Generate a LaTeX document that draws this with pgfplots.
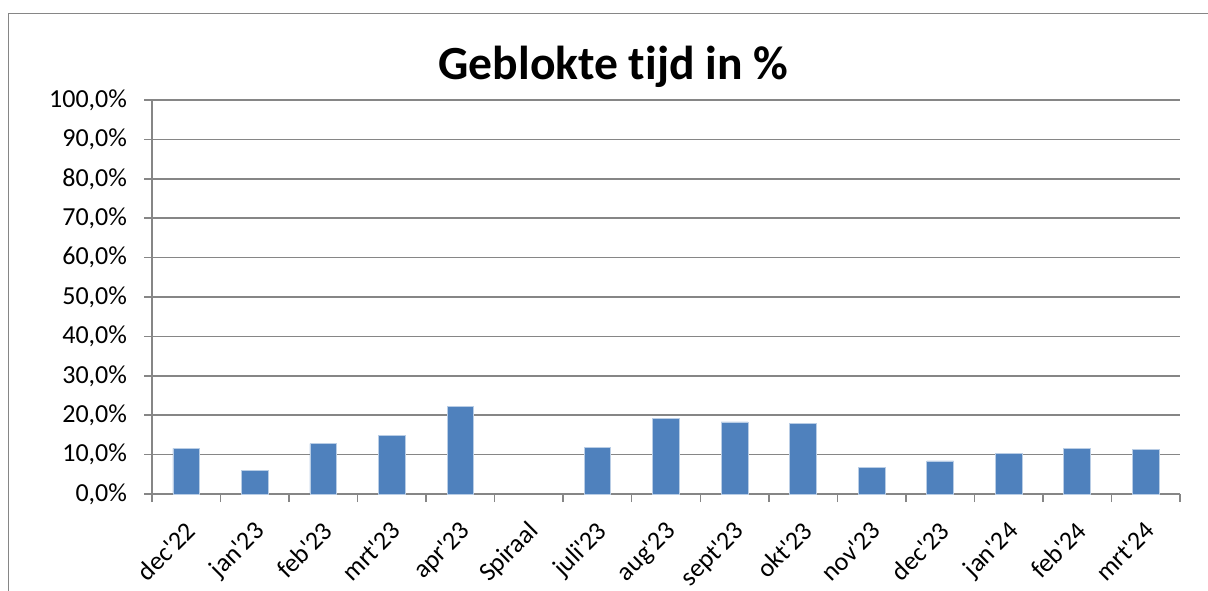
\documentclass[border=0pt]{standalone}
\usepackage{fontspec}
\setmainfont{Carlito}[Ligatures={NoCommon,TeXOff}]
\usepackage{pgfplots}
\pgfplotsset{compat=1.18}

\definecolor{barblue}{HTML}{4F81BD}
\definecolor{baredge}{HTML}{B9CDE5}
\definecolor{linegray}{HTML}{868686}

\begin{document}
\begin{tikzpicture}
  \useasboundingbox (0,0) rectangle (604pt,295pt);
  % chart frame (left and top edges visible)
  \draw[linegray, line width=0.9pt] (4.25pt,-5pt) -- (4.25pt,288.25pt) -- (612pt,288.25pt);
  \node[anchor=base, font=\fontsize{23.8}{28}\selectfont\bfseries] at (306.75pt,255pt) {Geblokte tijd in \%};
  \begin{axis}[
      at={(76pt,48pt)}, anchor=south west,
      scale only axis,
      width=514pt, height=197pt,
      xmin=-0.5, xmax=14.5,
      ymin=0, ymax=100,
      ytick={0,10,...,100},
      yticklabels={{0,0\%},{10,0\%},{20,0\%},{30,0\%},{40,0\%},{50,0\%},{60,0\%},{70,0\%},{80,0\%},{90,0\%},{100,0\%}},
      xtick={-0.5,0.5,...,14.5},
      x tick label as interval,
      xticklabels={dec'22,jan'23,feb'23,mrt'23,apr'23,Spiraal,juli'23,aug'23,sept'23,okt'23,nov'23,dec'23,jan'24,feb'24,mrt'24},
      axis x line*=bottom,
      axis y line*=left,
      axis line style={draw=linegray, line width=0.75pt, -},
      tick align=outside,
      major tick length=4pt,
      tick style={draw=linegray, line width=0.75pt},
      ymajorgrids,
      grid style={draw=linegray, line width=0.75pt},
      ticklabel style={font=\fontsize{13}{15}\selectfont},
      yticklabel style={xshift=-5pt},
      xticklabel style={xshift=-1pt, yshift=-4pt, rotate=45, anchor=north east},
      ybar, bar width=0.39,
    ]
    % Spiraal has no value
    \addplot[fill=barblue, draw=baredge, line width=0.4pt] coordinates {
      (0,11.6) (1,6.0) (2,12.8) (3,14.9) (4,22.3)
      (6,11.9) (7,19.1) (8,18.3) (9,18.0) (10,6.7) (11,8.4)
      (12,10.3) (13,11.6) (14,11.4)
    };
  \end{axis}
\end{tikzpicture}
\end{document}
